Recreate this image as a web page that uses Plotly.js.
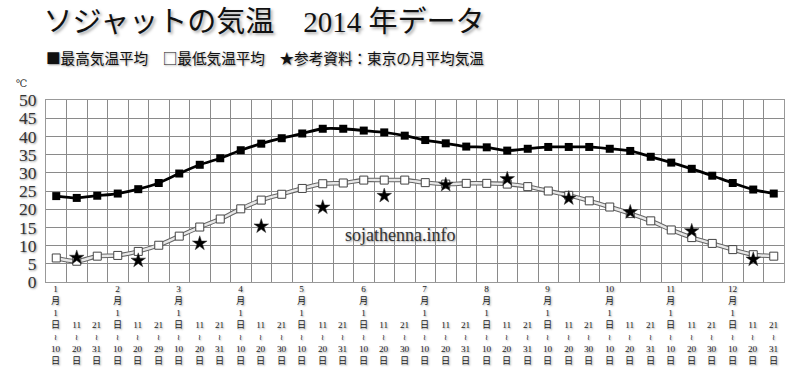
<!DOCTYPE html>
<html><head><meta charset="utf-8">
<script src="https://cdn.plot.ly/plotly-3.0.1.min.js"></script>
<style>html,body{margin:0;padding:0;background:#fff}#c{width:800px;height:386px}</style>
</head><body><div id="c"></div>
<script>
// Data (36 ten-day periods, 2014)
const months = ['1','2','3','4','5','6','7','8','9','10','11','12'];
const dekadStarts = ['1','11','21'];
const monthEnds = ['31','29','31','30','31','30','31','31','30','31','30','31'];
const maxAvg = [23.6,23.1,23.7,24.3,25.5,27.2,29.8,32.2,34.0,36.2,38.0,39.5,40.8,42.1,42.1,41.6,41.1,40.2,39.0,38.1,37.2,37.0,36.1,36.6,37.1,37.1,37.1,36.6,36.0,34.4,32.8,31.1,29.2,27.2,25.4,24.3];
const minAvg = [6.6,5.7,7.1,7.3,8.4,10.1,12.6,15.1,17.3,20.1,22.5,24.1,25.7,27.0,27.2,28.0,28.0,28.0,27.3,26.9,27.1,27.1,26.9,26.2,25.0,23.8,22.3,20.6,18.8,16.8,14.3,12.2,10.6,8.9,7.5,7.1];
const tokyoMonthly = [6.7,5.9,10.6,15.3,20.5,23.7,26.7,28.3,23.0,19.2,14.0,6.2];

const idx = [];
months.forEach(() => dekadStarts.forEach(() => idx.push(idx.length)));
const starX = months.map((m, i) => i * 3 + 1);

const serif = '"Liberation Serif", "DejaVu Serif", "Noto Sans CJK JP", serif';
const shadow = '1px 1px 2px #999';

// vertical stacked tick labels: one bottom-anchored text per ten-day period
const plotTop = 100, plotBottom = 282, plotH = plotBottom - plotTop;
const py = p => (plotBottom - p) / plotH;
const tilde = '<span style="font-size:8px">≀</span>';
const tickAnns = [];
months.forEach((m, i) => {
  dekadStarts.forEach((d, j) => {
    const end = j === 0 ? '10' : (j === 1 ? '20' : monthEnds[i]);
    const head = j === 0 ? m + '<br>月<br>1<br>日' : d;
    tickAnns.push({text: head + '<br>' + tilde + '<br>' + end + '<br>日',
      xref: 'x', yref: 'paper', x: i * 3 + j, y: py(367), xanchor: 'center', yanchor: 'bottom',
      showarrow: false, borderpad: 0,
      font: {family: serif, size: 9.2, color: '#222', shadow: shadow}});
  });
});

const traces = [
  {x: idx, y: minAvg, mode: 'lines', line: {color: '#666', width: 4.5, shape: 'spline', smoothing: 0.8}, hoverinfo: 'skip', showlegend: false},
  {x: idx, y: minAvg, mode: 'lines+markers', name: '最低気温平均',
   line: {color: '#e8e8e8', width: 2.4, shape: 'spline', smoothing: 0.8},
   marker: {symbol: 'square', size: 8, color: '#fff', line: {color: '#444', width: 1}}},
  {x: idx, y: maxAvg, mode: 'lines+markers', name: '最高気温平均',
   line: {color: '#000', width: 2.8, shape: 'spline', smoothing: 0.8},
   marker: {symbol: 'square', size: 8, color: '#000'}},
  {x: starX, y: tokyoMonthly, mode: 'markers', name: '参考資料：東京の月平均気温',
   marker: {symbol: 'star', size: 11, color: '#000', line: {color: '#333', width: 0.5}}}
];

const layout = {
  width: 800, height: 386,
  margin: {l: 46, r: 16, t: plotTop, b: 386 - plotBottom},
  paper_bgcolor: '#fff', plot_bgcolor: '#fff',
  showlegend: false,
  title: {text: 'ソジャットの気温　2014 年データ', xref: 'container', yref: 'container',
    x: 0.330, xanchor: 'center', y: 0.943, yanchor: 'middle',
    font: {family: serif, size: 29, color: '#111', shadow: '2px 2px 3px #aaa'}},
  xaxis: {range: [-0.5, 35.5], tickmode: 'array', tickvals: idx, showticklabels: false,
    showgrid: false, zeroline: false, ticks: '',
    showline: true, mirror: true, linecolor: '#999', linewidth: 1,
    minor: {tickmode: 'linear', tick0: 0.5, dtick: 1, showgrid: true, gridcolor: '#8a8a8a', gridwidth: 1, ticks: ''}},
  yaxis: {range: [0, 50], tickmode: 'linear', tick0: 0, dtick: 5,
    showgrid: true, gridcolor: '#8a8a8a', gridwidth: 1,
    zeroline: true, zerolinecolor: '#666', zerolinewidth: 2.5,
    showline: true, mirror: true, linecolor: '#999', linewidth: 1,
    ticks: '', ticklabelstandoff: 5,
    tickfont: {family: serif, size: 17.5, color: '#333', shadow: shadow}},
  annotations: [
    {text: '■最高気温平均　□最低気温平均　★参考資料：東京の月平均気温', xref: 'paper', yref: 'paper',
     x: -0.003, xanchor: 'left', y: py(58), yanchor: 'middle', showarrow: false,
     font: {family: '"Noto Sans CJK JP", sans-serif', size: 14.6, color: '#111', shadow: shadow}},
    {text: '℃', xref: 'paper', yref: 'paper', x: (22 - 46) / 738, xanchor: 'center', y: py(83), yanchor: 'middle',
     showarrow: false, font: {family: serif, size: 10, color: '#333'}},
    {text: 'sojathenna.info', xref: 'paper', yref: 'y', x: (400 - 46) / 738, xanchor: 'center', y: 12.8, yanchor: 'middle',
     showarrow: false, font: {family: serif, size: 18, color: '#333', shadow: shadow}}
  ].concat(tickAnns)
};

Plotly.newPlot('c', traces, layout, {displayModeBar: false, staticPlot: true});
</script></body></html>
